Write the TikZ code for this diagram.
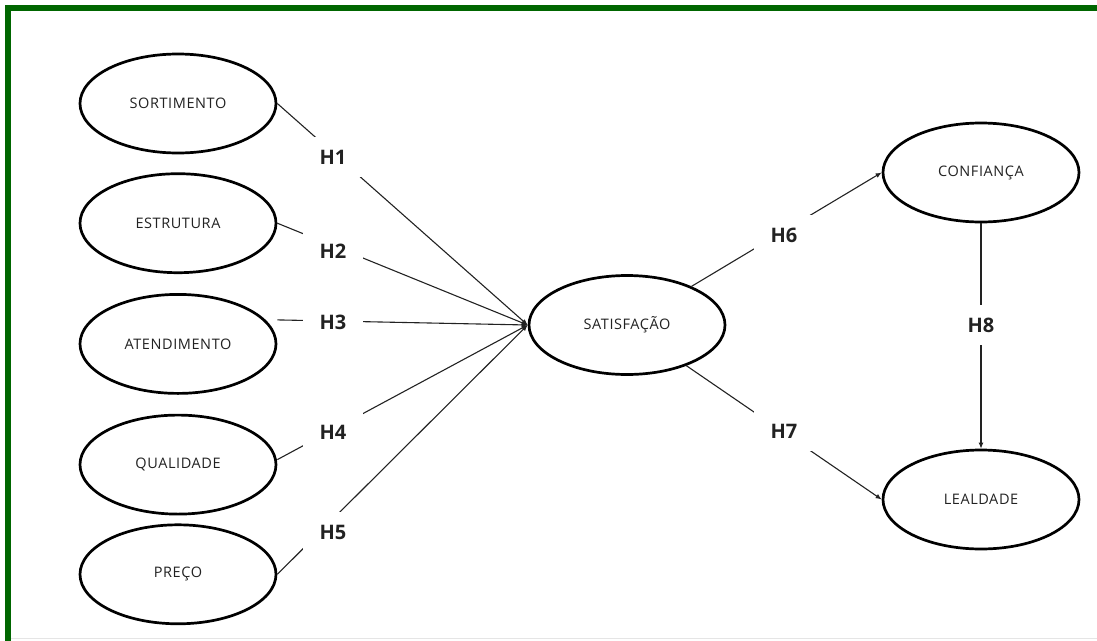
\documentclass[tikz,border=0pt]{standalone}
\usepackage{fontspec}
\setmainfont{Open Sans}
\usetikzlibrary{arrows.meta, shapes.geometric, positioning}
\definecolor{framegreen}{RGB}{0,102,0}
\definecolor{inkgray}{RGB}{34,34,34}

\begin{document}
\begin{tikzpicture}[x=1pt, y=-1pt,
      construct/.style={ellipse, draw=black, line width=2.7pt, fill=white,
          minimum width=196pt, minimum height=99pt, inner sep=0pt,
          font=\fontsize{14.5}{17}\selectfont\addfontfeature{LetterSpace=4},
          text=inkgray},
      hyp/.style={fill=white, minimum width=60pt, minimum height=40pt,
          inner sep=0pt, font=\fontsize{20}{24}\selectfont\bfseries,
          text=inkgray},
      arr/.style={-{Latex[length=6pt, width=5pt]}, line width=1.1pt, inkgray}
    ]
    \useasboundingbox (0,0) rectangle (1097,640);
    \draw[framegreen, line width=5.5pt] (8,643) -- (8,8) -- (1100,8);
    \draw[black!10, line width=1pt] (11,638.5) -- (1097,638.5);

    % antecedentes
    \node[construct] (sort) at (178,103.5) {SORTIMENTO};
    \node[construct, below=18pt of sort] (estr)  {ESTRUTURA};
    \node[construct, below=19pt of estr] (aten)  {ATENDIMENTO};
    \node[construct, below=19pt of aten] (qual)  {QUALIDADE};
    \node[construct, below=8pt of qual]  (preco) {PREÇO};

    % satisfacao e consequentes
    \node[construct] (sat)  at (627,325)   {SATISFAÇÃO};
    \node[construct] (conf) at (981,172.5) {CONFIANÇA};
    \node[construct] (leal) at (981,499.5) {LEALDADE};

    \draw[arr] (sort.east) -- (sat.west);
    \draw[arr] (estr.east) -- (sat.west);
    \draw[arr] ([yshift=24pt]aten.east) -- (sat.west);
    \draw[arr] ([yshift=5pt]qual.east) -- (sat.west);
    \draw[arr] (preco.east) -- (sat.west);
    \draw[arr] (sat) -- (conf.west);
    \draw[arr] (sat) -- (leal.west);
    \draw[arr] (conf.south) -- (leal.north);

    % hipoteses
    \node[hyp] (h1) at (333,157) {H1};
    \node[hyp] (h2) at (333,251) {H2};
    \node[hyp] (h3) at (333,322) {H3};
    \node[hyp] (h4) at (333,432) {H4};
    \node[hyp] (h5) at (333,532) {H5};
    \node[hyp] (h6) at (784,235) {H6};
    \node[hyp] (h7) at (784,431) {H7};
    \node[hyp] (h8) at (981,325) {H8};
  \end{tikzpicture}
\end{document}
